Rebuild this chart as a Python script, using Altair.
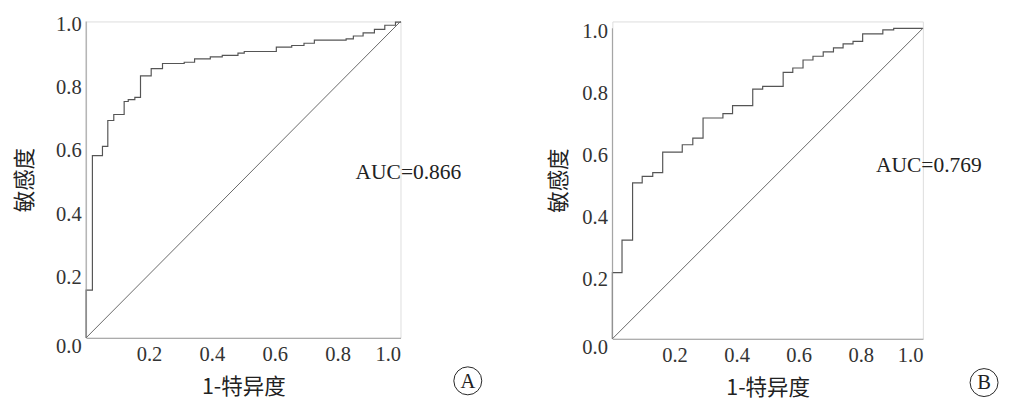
import altair as alt
import pandas as pd

# Panel A ROC (corner points: x where curve rises, y level after rise)
a_fpr = [0, 0, 0.020, 0.052, 0.069, 0.088, 0.121, 0.134, 0.155, 0.173, 0.207, 0.243,
         0.312, 0.345, 0.395, 0.433, 0.483, 0.503, 0.605, 0.654, 0.693, 0.726, 0.827,
         0.850, 0.881, 0.917, 0.950, 0.984, 1.0]
a_tpr = [0, 0.151, 0.576, 0.605, 0.687, 0.706, 0.747, 0.753, 0.760, 0.828, 0.851, 0.867,
         0.871, 0.882, 0.888, 0.893, 0.900, 0.905, 0.919, 0.924, 0.931, 0.941, 0.945,
         0.954, 0.964, 0.975, 0.988, 0.998, 1.0]

# Panel B ROC
b_fpr = [0, 0, 0.031, 0.065, 0.096, 0.130, 0.162, 0.225, 0.259, 0.292, 0.356, 0.387,
         0.452, 0.484, 0.550, 0.581, 0.614, 0.646, 0.679, 0.712, 0.743, 0.775, 0.806,
         0.871, 0.906, 1.0]
b_tpr = [0, 0.213, 0.318, 0.502, 0.523, 0.535, 0.601, 0.625, 0.646, 0.711, 0.725, 0.751,
         0.804, 0.813, 0.858, 0.872, 0.898, 0.910, 0.924, 0.937, 0.950, 0.958, 0.982,
         0.995, 1.0, 1.0]

diag_x = [0, 1]
diag_y = [0, 1]

x_ticks = [0.2, 0.4, 0.6, 0.8, 1.0]
y_ticks = [0.0, 0.2, 0.4, 0.6, 0.8, 1.0]

auc_labels = ["AUC=0.866", "AUC=0.769"]
auc_pos_a = (0.857, 0.525)
auc_pos_b = (0.849, 0.56)
panel_letters = ["A", "B"]
letter_pos_a = (1.214, -0.136)
letter_pos_b = (1.197, -0.141)

SERIF = "Liberation Serif"
CJK = "Noto Sans CJK SC"
AXIS_GREY = "#9a9a9a"


def panel(fpr, tpr, w, h, ymax, auc, auc_pos, letter, letter_pos, ytitle_pad):
    df = pd.DataFrame({"fpr": fpr, "tpr": tpr, "i": list(range(len(fpr)))})
    xs = alt.Scale(domain=[0, 1], nice=False, zero=False)
    ys = alt.Scale(domain=[0, ymax], nice=False, zero=False)
    xax = alt.Axis(values=x_ticks, format=".1f", title="1-特异度", grid=False, ticks=False,
                   domainColor=AXIS_GREY, labelFont=SERIF, labelFontSize=21,
                   labelColor="#333", labelPadding=6, titleFont=CJK, titleFontSize=22,
                   titleFontWeight="normal", titleColor="#222", titlePadding=13)
    yax = alt.Axis(values=y_ticks, format=".1f", title="敏感度", grid=False, ticks=False,
                   domain=False, labelFont=SERIF, labelFontSize=21,
                   labelColor="#333", labelPadding=5,
                   labelOffset={"condition": {"test": "datum.value == 0", "value": 9},
                                "value": 3},
                   titleFont=CJK, titleFontSize=22, titleFontWeight="normal",
                   titleColor="#222", titlePadding=ytitle_pad)
    curve = alt.Chart(df).mark_line(interpolate="step-after", color="#555",
                                    strokeWidth=1.2).encode(
        x=alt.X("fpr:Q", scale=xs, axis=xax),
        y=alt.Y("tpr:Q", scale=ys, axis=yax),
        order="i:Q",
    )
    # y axis line spanning 0..1
    adf = pd.DataFrame({"fpr": [0.0], "tpr": [0.0], "tpr2": [1.0]})
    yline = alt.Chart(adf).mark_rule(color=AXIS_GREY, strokeWidth=1).encode(
        x="fpr:Q", y="tpr:Q", y2="tpr2:Q")
    ddf = pd.DataFrame({"fpr": diag_x, "tpr": diag_y})
    diag = alt.Chart(ddf).mark_line(color="#666", strokeWidth=1).encode(
        x="fpr:Q", y="tpr:Q")
    tdf = pd.DataFrame({"fpr": [auc_pos[0]], "tpr": [auc_pos[1]], "t": [auc]})
    txt = alt.Chart(tdf).mark_text(align="left", baseline="middle", font=SERIF,
                                   fontSize=22, color="#222").encode(
        x="fpr:Q", y="tpr:Q", text="t:N")
    ldf = pd.DataFrame({"fpr": [letter_pos[0]], "tpr": [letter_pos[1]], "t": [letter]})
    circ = alt.Chart(ldf).mark_point(shape="circle", size=820, filled=False,
                                     stroke="#222", strokeWidth=1, opacity=1).encode(
        x="fpr:Q", y="tpr:Q")
    let = alt.Chart(ldf).mark_text(align="center", baseline="middle", font=SERIF,
                                   fontSize=21, color="#222", dy=1).encode(
        x="fpr:Q", y="tpr:Q", text="t:N")
    return alt.layer(curve, yline, diag, txt, circ, let).properties(width=w, height=h)


pa = panel(a_fpr, a_tpr, 322, 324, 1.0, auc_labels[0], auc_pos_a, panel_letters[0],
           letter_pos_a, 20)
pb = panel(b_fpr, b_tpr, 318, 325, 1.022, auc_labels[1], auc_pos_b, panel_letters[1],
           letter_pos_b, 12)

chart = alt.hconcat(pa, pb, spacing=64).properties(
    padding={"left": 5, "top": 0, "right": 0, "bottom": 0}
).configure_view(stroke=None).configure(background="white")

chart.save("out.html", embed_options={"renderer": "svg", "actions": False})
